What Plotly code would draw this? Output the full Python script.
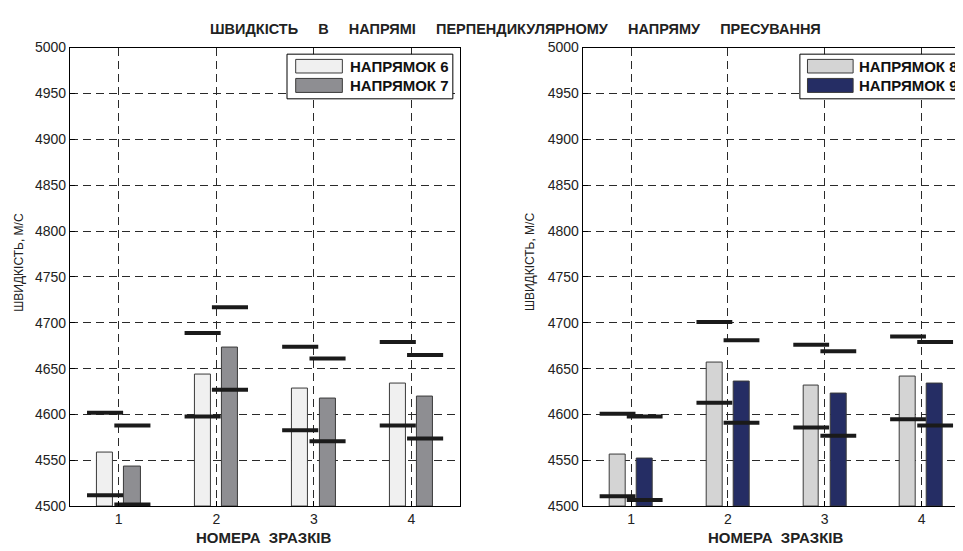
import plotly.graph_objects as go

# ---------------- data ----------------
samples = [1, 2, 3, 4]
tick_labels = ["1", "2", "3", "4"]

dir6 = [4559, 4644, 4628, 4634]
dir7 = [4543, 4673, 4617, 4620]
dir6_max = [4602, 4689, 4674, 4679]
dir6_min = [4512, 4598, 4583, 4588]
dir7_max = [4588, 4717, 4661, 4665]
dir7_min = [4502, 4627, 4571, 4574]

dir8 = [4556, 4657, 4632, 4641]
dir9 = [4552, 4636, 4623, 4634]
dir8_max = [4601, 4701, 4676, 4685]
dir8_min = [4511, 4613, 4586, 4595]
dir9_max = [4598, 4681, 4669, 4679]
dir9_min = [4507, 4591, 4577, 4588]

y_ticks = [4500, 4550, 4600, 4650, 4700, 4750, 4800, 4850, 4900, 4950, 5000]

# ---------------- style ----------------
W, H = 963, 551
SHIFT = 8  # page body margin
OFF = 0.14
BW = 0.165
HALF = 0.185
FONT = "Liberation Sans, Arial, sans-serif"
C6, C7 = "#f0f0f0", "#8e8e92"
C8, C9 = "#d4d4d4", "#252d64"
LINE_C = "#1a1a1a"


def px(x):
    return (x - SHIFT) / W


def py(y):
    return (H - (y - SHIFT)) / H


fig = go.Figure()


def add_group(xa, ya, vals, vmin, vmax, sign, color):
    xs = [s + sign * OFF for s in samples]
    fig.add_trace(go.Bar(x=xs, y=[v - 4500 for v in vals], base=4500, width=BW,
                         marker=dict(color=color, line=dict(color="#3a3a3a", width=1)),
                         xaxis=xa, yaxis=ya, showlegend=False, hoverinfo="skip"))
    lx, ly = [], []
    for s, lo, hi in zip(xs, vmin, vmax):
        lx += [s - HALF, s + HALF, None, s - HALF, s + HALF, None]
        ly += [hi, hi, None, lo, lo, None]
    return lx, ly


lines_left = [add_group("x", "y", dir6, dir6_min, dir6_max, -1, C6),
              add_group("x", "y", dir7, dir7_min, dir7_max, +1, C7)]
lines_right = [add_group("x2", "y2", dir8, dir8_min, dir8_max, -1, C8),
               add_group("x2", "y2", dir9, dir9_min, dir9_max, +1, C9)]

for (lx, ly) in lines_left:
    fig.add_trace(go.Scatter(x=lx, y=ly, mode="lines", line=dict(color=LINE_C, width=4),
                             xaxis="x", yaxis="y", showlegend=False, hoverinfo="skip"))
for (lx, ly) in lines_right:
    fig.add_trace(go.Scatter(x=lx, y=ly, mode="lines", line=dict(color=LINE_C, width=4),
                             xaxis="x2", yaxis="y2", showlegend=False, hoverinfo="skip"))

ydom = [py(513), py(40.5)]
grid = dict(showgrid=True, gridcolor="#2a2a2a", gridwidth=1, griddash="8px,5px")
xcommon = dict(tickvals=samples, ticktext=tick_labels, showline=True, linecolor="black",
               linewidth=1, ticks="inside", ticklen=5, tickcolor="black", zeroline=False,
               tickfont=dict(family=FONT, size=14, color="#222"), **grid)
ycommon = dict(range=[4500, 5000], tickvals=y_ticks, domain=ydom, showline=True,
               linecolor="black", linewidth=1, ticks="inside", ticklen=5, tickcolor="black",
               zeroline=False, tickfont=dict(family=FONT, size=14, color="#222"), **grid)

fig.update_layout(
    width=W, height=H, margin=dict(l=0, r=0, t=0, b=0),
    paper_bgcolor="white", plot_bgcolor="white", bargap=0,
    xaxis=dict(domain=[px(70), px(460.7)], range=[0.5, 4.5], anchor="y", mirror=True, **xcommon),
    yaxis=dict(anchor="x", mirror=True, **ycommon),
    xaxis2=dict(domain=[px(583.3), 1.0], range=[0.5, 4.5], anchor="y2", mirror=True, **xcommon),
    yaxis2=dict(anchor="x2", mirror=True, **ycommon),
)

GAP = " &nbsp; &nbsp; "
title_words = ["ШВИДКІСТЬ", "В", "НАПРЯМІ", "ПЕРПЕНДИКУЛЯРНОМУ", "НАПРЯМУ", "ПРЕСУВАННЯ"]
ann = []
ann.append(dict(text="<b>" + GAP.join(title_words) + "</b>",
                x=px(516.5), y=py(21), xref="paper", yref="paper", showarrow=False,
                xanchor="center", yanchor="middle",
                font=dict(family=FONT, size=14.5, color="#222")))
for cx in [264, 776.5]:
    ann.append(dict(text="<b>НОМЕРА &nbsp;ЗРАЗКІВ</b>", x=px(cx), y=py(545), xref="paper", yref="paper",
                    showarrow=False, xanchor="center", yanchor="middle",
                    font=dict(family=FONT, size=15, color="#222")))
for cx in [19, 530]:
    ann.append(dict(text="ШВИДКІСТЬ, М/С", x=px(cx), y=py(261), xref="paper", yref="paper",
                    showarrow=False, textangle=-90, xanchor="center", yanchor="middle",
                    font=dict(family=FONT, size=12, color="#222")))

shapes = []
legends = [
    (287.3, 453.3, 296, 342.7, 348.3, [("НАПРЯМОК 6", C6), ("НАПРЯМОК 7", C7)]),
    (800.7, 961.7, 808.3, 854, 858.3, [("НАПРЯМОК 8", C8), ("НАПРЯМОК 9", C9)]),
]
rows = [(52.7, 66.7), (72.3, 86.7)]
for bx0, bx1, sx0, sx1, tx, items in legends:
    shapes.append(dict(type="rect", xref="paper", yref="paper", x0=px(bx0), x1=px(bx1),
                       y0=py(93.3), y1=py(47.3), fillcolor="white",
                       line=dict(color="black", width=1), layer="above"))
    for (name, col), (r0, r1) in zip(items, rows):
        shapes.append(dict(type="rect", xref="paper", yref="paper", x0=px(sx0), x1=px(sx1),
                           y0=py(r1), y1=py(r0), fillcolor=col,
                           line=dict(color="#3a3a3a", width=1), layer="above"))
        ann.append(dict(text="<b>" + name + "</b>", x=px(tx), y=py((r0 + r1) / 2),
                        xref="paper", yref="paper", showarrow=False, xanchor="left",
                        yanchor="middle", font=dict(family=FONT, size=15, color="#111")))

fig.update_layout(annotations=ann, shapes=shapes)
fig.write_html("out.html")
